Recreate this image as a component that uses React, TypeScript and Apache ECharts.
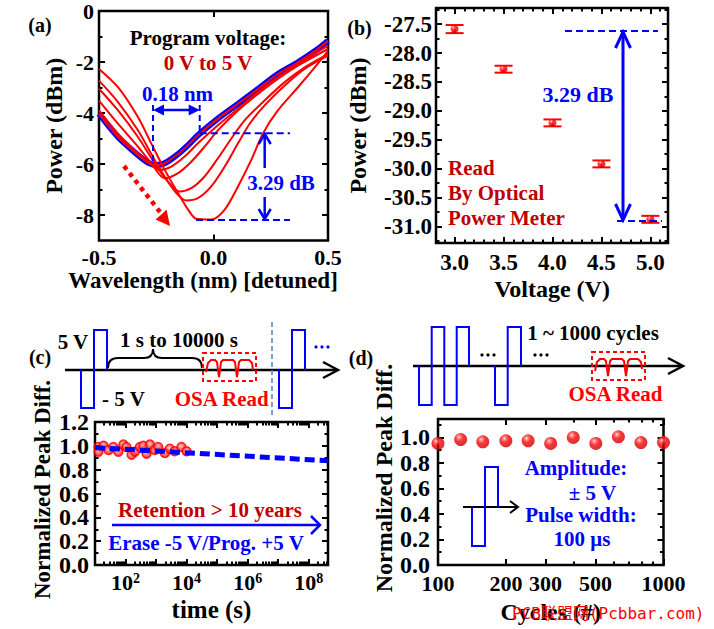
import React, { useEffect, useRef } from 'react';
import * as echarts from 'echarts';

const FONT = "'Liberation Serif', 'Times New Roman', serif";
const DARK_RED = '#c00000';
const RED = '#ff0000';
const BLUE = '#0000ff';

// ---------- Panel (a): spectra, wavelength (nm, detuned) vs power (dBm)
const wl0 = [-0.5, -0.417, -0.33, -0.286, -0.25, -0.213, -0.155, -0.111, -0.068, 0.019, 0.107, 0.194, 0.281, 0.369, 0.456, 0.5];
const pw0 = [-4.03, -4.94, -5.65, -5.95, -6.04, -5.97, -5.61, -5.26, -4.87, -4.22, -3.64, -3.06, -2.47, -2.01, -1.49, -1.17];
const wl1 = [-0.5, -0.417, -0.33, -0.272, -0.235, -0.184, -0.126, -0.068, 0.019, 0.107, 0.194, 0.281, 0.369, 0.5];
const pw1 = [-3.9, -4.81, -5.58, -6.04, -6.23, -6.1, -5.71, -5.19, -4.48, -3.83, -3.18, -2.6, -2.08, -1.36];
const wl2 = [-0.5, -0.417, -0.33, -0.272, -0.213, -0.155, -0.097, -0.039, 0.019, 0.107, 0.194, 0.281, 0.369, 0.5];
const pw2 = [-3.51, -4.42, -5.32, -5.97, -6.56, -6.36, -5.91, -5.32, -4.68, -3.9, -3.25, -2.66, -2.14, -1.49];
const wl3 = [-0.5, -0.417, -0.33, -0.257, -0.199, -0.148, -0.097, -0.039, 0.019, 0.078, 0.136, 0.223, 0.311, 0.398, 0.5];
const pw3 = [-3.05, -3.9, -4.94, -5.97, -6.69, -7.08, -6.95, -6.49, -5.78, -5.0, -4.29, -3.51, -2.79, -2.21, -1.69];
const wl4 = [-0.5, -0.417, -0.33, -0.257, -0.199, -0.155, -0.119, -0.068, -0.01, 0.049, 0.107, 0.158, 0.223, 0.311, 0.398, 0.5];
const pw4 = [-2.73, -3.57, -4.68, -5.84, -6.69, -7.21, -7.43, -7.34, -6.88, -6.1, -5.19, -4.42, -3.7, -2.92, -2.27, -1.75];
const wl5 = [-0.5, -0.417, -0.33, -0.272, -0.213, -0.155, -0.111, -0.075, -0.01, 0.049, 0.107, 0.165, 0.216, 0.281, 0.369, 0.442, 0.5];
const pw5 = [-2.27, -2.99, -4.16, -5.19, -6.23, -7.14, -7.79, -8.15, -8.18, -7.79, -6.88, -5.84, -4.8, -3.9, -2.99, -2.21, -1.56];
const curvesX = [wl0, wl1, wl2, wl3, wl4, wl5];
const curvesY = [pw0, pw1, pw2, pw3, pw4, pw5];
const aYTicks = [0, -2, -4, -6, -8];
const aYMinor = [-1, -3, -5, -7];
const aXTicks = [-0.5, 0, 0.5];

// ---------- Panel (b): read power vs program voltage
const voltages = [3.0, 3.5, 4.0, 4.5, 5.0];
const readPower = [-27.585, -28.28, -29.21, -29.92, -30.88];
const readErr = [0.07, 0.06, 0.06, 0.06, 0.06];
const bXTicks = [3.0, 3.5, 4.0, 4.5, 5.0];
const bXMinor = [2.9, 3.1, 3.2, 3.3, 3.4, 3.6, 3.7, 3.8, 3.9, 4.1, 4.2, 4.3, 4.4, 4.6, 4.7, 4.8, 4.9, 5.1];
const bYTicks = [-27.5, -28.0, -28.5, -29.0, -29.5, -30.0, -30.5, -31.0];
const bYMinor = [-27.25, -27.75, -28.25, -28.75, -29.25, -29.75, -30.25, -30.75, -31.25];

// ---------- Panel (c): retention
const retTimes = [13, 13, 19, 28, 40, 58, 85, 107, 158, 204, 295, 380, 490, 630, 912, 1175, 1950, 2820, 4070, 6760, 10000];
const retValues = [0.99, 0.95, 1.0, 0.965, 0.99, 0.95, 1.01, 0.99, 0.925, 0.95, 0.99, 1.0, 0.935, 1.01, 0.965, 0.99, 0.94, 0.975, 0.955, 0.99, 0.955];
const fitTimes = [10, 4.3e8];
const fitValues = [0.985, 0.875];
const cXDecades = [1, 2, 3, 4, 5, 6, 7, 8];
const cXLabelDecades = [2, 4, 6, 8];
const cYTicks = [0, 0.2, 0.4, 0.6, 0.8, 1.0, 1.2];
const cYMinor = [0.1, 0.3, 0.5, 0.7, 0.9, 1.1];

// ---------- Panel (d): endurance
const cycles = [100, 126, 158, 200, 251, 316, 398, 501, 631, 794, 1000];
const peakDiff = [0.953, 0.984, 0.966, 0.974, 0.974, 0.953, 1.0, 0.953, 1.005, 0.96, 0.96];
const dXTicks = [100, 200, 300, 500, 1000];
const dXMinor = [400, 600, 700, 800, 900];
const dYTicks = [0, 0.2, 0.4, 0.6, 0.8, 1.0];
const dYMinor = [0.1, 0.3, 0.5, 0.7, 0.9, 1.1];

const lg = (v: number) => Math.log10(v);

type Spec = {
  min: number; max: number; major: number[]; minor: number[]; labels: number[];
  fmt: (v: number) => string; fontSize: number; margin: number;
  name: string; nameGap: number; nameSize: number; namePad?: number[]; rich?: any;
};

function buildAxes(dim: 'x' | 'y', gridIndex: number, s: Spec) {
  const p1 = dim === 'x' ? 'bottom' : 'left';
  const p2 = dim === 'x' ? 'top' : 'right';
  const base = {
    type: 'value', gridIndex, min: s.min, max: s.max,
    axisLine: { show: false, onZero: false },
    splitLine: { show: false },
  };
  const tick = (vals: number[], len: number) => ({
    show: true, inside: true, length: len, customValues: vals,
    lineStyle: { color: '#000', width: 2 },
  });
  return [
    {
      ...base, position: p1, axisTick: tick(s.major, 6),
      axisLabel: {
        show: true, customValues: s.labels, formatter: s.fmt, color: '#000',
        fontFamily: FONT, fontWeight: 'bold', fontSize: s.fontSize, margin: s.margin,
        rich: s.rich,
      },
      name: s.name, nameLocation: 'middle', nameGap: s.nameGap,
      nameTextStyle: {
        color: '#000', fontFamily: FONT, fontWeight: 'bold', fontSize: s.nameSize,
        padding: s.namePad || [0, 0, 0, 0],
      },
    },
    { ...base, position: p1, axisTick: tick(s.minor, 3.5), axisLabel: { show: false } },
    { ...base, position: p2, axisTick: tick(s.major, 6), axisLabel: { show: false } },
    { ...base, position: p2, axisTick: tick(s.minor, 3.5), axisLabel: { show: false } },
  ];
}

const txt = (x: number, y: number, text: string, fill: string, size = 21, align = 'center') => ({
  type: 'text', x, y, z: 100,
  style: {
    text, fill, fontSize: size, fontWeight: 'bold', fontFamily: FONT,
    textAlign: align, align, textVerticalAlign: 'middle', verticalAlign: 'middle',
  },
});
const ln = (x1: number, y1: number, x2: number, y2: number, stroke: string, w = 2, dash?: number[]) => ({
  type: 'line', z: 100, shape: { x1, y1, x2, y2 },
  style: { stroke, lineWidth: w, lineDash: dash || null },
});
const pl = (points: number[][], stroke: string, w = 2, dash?: number[]) => ({
  type: 'polyline', z: 100, shape: { points },
  style: { stroke, lineWidth: w, fill: null, lineDash: dash || null },
});
const bz = (x1: number, y1: number, cpx1: number, cpy1: number, x2: number, y2: number) => ({
  type: 'bezierCurve', z: 100, shape: { x1, y1, cpx1, cpy1, x2, y2 },
  style: { stroke: '#000', lineWidth: 2, fill: null },
});
const dots = (cx: number, cy: number, fill: string) =>
  [-6, 0, 6].map((dx) => ({ type: 'circle', z: 100, shape: { cx: cx + dx, cy, r: 1.6 }, style: { fill } }));
const osaBox = (x0: number, y0: number) => [
  {
    type: 'rect', z: 100, shape: { x: x0, y: y0, width: 53, height: 28 },
    style: { stroke: RED, lineWidth: 2, fill: null, lineDash: [4, 3] },
  },
  pl([[x0 + 3, y0 + 19], [x0 + 5, y0 + 10], [x0 + 8, y0 + 7], [x0 + 12, y0 + 7], [x0 + 14, y0 + 9], [x0 + 15, y0 + 17],
      [x0 + 16, y0 + 24], [x0 + 17, y0 + 17], [x0 + 18, y0 + 9], [x0 + 20, y0 + 7], [x0 + 30, y0 + 7], [x0 + 32, y0 + 9],
      [x0 + 33, y0 + 17], [x0 + 34, y0 + 24], [x0 + 35, y0 + 17], [x0 + 36, y0 + 9], [x0 + 38, y0 + 7], [x0 + 46, y0 + 7],
      [x0 + 49, y0 + 10], [x0 + 50, y0 + 17]], RED, 2),
];

function buildOption() {
  const xAxis = [
    ...buildAxes('x', 0, {
      min: -0.5, max: 0.5, major: aXTicks, minor: [], labels: aXTicks,
      fmt: (v) => v.toFixed(1), fontSize: 22, margin: 6,
      name: 'Wavelength (nm) [detuned]', nameGap: 26, nameSize: 23, namePad: [0, 21, 0, 0],
    }),
    ...buildAxes('x', 1, {
      min: 2.81, max: 5.18, major: bXTicks, minor: bXMinor, labels: bXTicks,
      fmt: (v) => v.toFixed(1), fontSize: 23, margin: 8,
      name: 'Voltage (V)', nameGap: 34, nameSize: 24,
    }),
    ...buildAxes('x', 2, {
      min: 1, max: 8.63, major: cXDecades,
      minor: cXDecades.flatMap((n) => [2, 3, 4, 5, 6, 7, 8, 9].map((k) => n + lg(k))).filter((v) => v < 8.63),
      labels: cXLabelDecades,
      fmt: (v) => `{b|10}{s|${Math.round(v)}}`, fontSize: 22, margin: 6,
      rich: {
        b: { fontSize: 22, fontWeight: 'bold', fontFamily: FONT, color: '#000', verticalAlign: 'bottom' },
        s: { fontSize: 14, fontWeight: 'bold', fontFamily: FONT, color: '#000', verticalAlign: 'top' },
      },
      name: 'time (s)', nameGap: 32, nameSize: 25,
    }),
    ...buildAxes('x', 3, {
      min: 2, max: 3, major: dXTicks.map(lg), minor: dXMinor.map(lg), labels: dXTicks.map(lg),
      fmt: (v) => String(Math.round(Math.pow(10, v))), fontSize: 22, margin: 7,
      name: 'Cycles (#)', nameGap: 35, nameSize: 24,
    }),
  ];
  const yAxis = [
    ...buildAxes('y', 0, {
      min: -9, max: 0, major: aYTicks, minor: aYMinor, labels: aYTicks,
      fmt: (v) => String(v), fontSize: 22, margin: 5,
      name: 'Power (dBm)', nameGap: 33, nameSize: 24,
    }),
    ...buildAxes('y', 1, {
      min: -31.29, max: -27.22, major: bYTicks, minor: bYMinor, labels: bYTicks,
      fmt: (v) => v.toFixed(1), fontSize: 23, margin: 4,
      name: 'Power (dBm)', nameGap: 66, nameSize: 24,
    }),
    ...buildAxes('y', 2, {
      min: 0, max: 1.2, major: cYTicks, minor: cYMinor, labels: cYTicks,
      fmt: (v) => v.toFixed(1), fontSize: 24, margin: 6,
      name: 'Normalized Peak Diff.', nameGap: 41, nameSize: 23, namePad: [0, 0, 0, 8],
    }),
    ...buildAxes('y', 3, {
      min: 0, max: 1.145, major: dYTicks, minor: dYMinor, labels: dYTicks,
      fmt: (v) => v.toFixed(1), fontSize: 24, margin: 8,
      name: 'Normalized Peak Diff.', nameGap: 42, nameSize: 24, namePad: [0, 0, 0, 28],
    }),
  ];

  const sphere = {
    type: 'radial', x: 0.38, y: 0.32, r: 0.72,
    colorStops: [
      { offset: 0, color: '#ffffff' }, { offset: 0.15, color: '#ff7070' },
      { offset: 0.45, color: '#ff0000' }, { offset: 1, color: '#c00000' },
    ],
  };
  const ring = {
    type: 'radial', x: 0.45, y: 0.4, r: 0.6,
    colorStops: [
      { offset: 0, color: '#ffc8c8' }, { offset: 0.5, color: '#ff5050' }, { offset: 1, color: '#ff0000' },
    ],
  };

  const series: any[] = [];
  // (a) blue reference under the 0 V trace, then red traces
  series.push({
    type: 'line', xAxisIndex: 0, yAxisIndex: 0, data: wl0.map((x, i) => [x, pw0[i]]),
    showSymbol: false, smooth: 0.3, lineStyle: { color: BLUE, width: 6 }, z: 2, clip: true,
  });
  curvesX.forEach((xs, c) => {
    series.push({
      type: 'line', xAxisIndex: 0, yAxisIndex: 0, data: xs.map((x, i) => [x, curvesY[c][i]]),
      showSymbol: false, smooth: 0.3, lineStyle: { color: RED, width: 2 }, z: 3, clip: true,
    });
  });
  // (b)
  series.push({
    type: 'custom', xAxisIndex: 4, yAxisIndex: 4,
    data: voltages.map((v, i) => [v, readPower[i], readErr[i]]),
    renderItem: (params: any, api: any) => {
      const x = api.value(0), y = api.value(1), e = api.value(2);
      const top = api.coord([x, y + e]);
      const bot = api.coord([x, y - e]);
      const hw = 9;
      const st = { stroke: RED, lineWidth: 2 };
      return {
        type: 'group',
        children: [
          { type: 'line', shape: { x1: top[0], y1: top[1], x2: bot[0], y2: bot[1] }, style: st },
          { type: 'line', shape: { x1: top[0] - hw, y1: top[1], x2: top[0] + hw, y2: top[1] }, style: st },
          { type: 'line', shape: { x1: bot[0] - hw, y1: bot[1], x2: bot[0] + hw, y2: bot[1] }, style: st },
        ],
      };
    },
    z: 3,
  });
  series.push({
    type: 'scatter', xAxisIndex: 4, yAxisIndex: 4, data: voltages.map((v, i) => [v, readPower[i]]),
    symbol: 'circle', symbolSize: 8, itemStyle: { color: sphere }, z: 4,
  });
  // (c)
  series.push({
    type: 'line', xAxisIndex: 8, yAxisIndex: 8, data: fitTimes.map((t, i) => [lg(t), fitValues[i]]),
    showSymbol: false, lineStyle: { color: BLUE, width: 5, type: [10, 5] }, z: 4,
  });
  series.push({
    type: 'scatter', xAxisIndex: 8, yAxisIndex: 8, data: retTimes.map((t, i) => [lg(t), retValues[i]]),
    symbol: 'circle', symbolSize: 9, itemStyle: { color: ring, borderColor: RED, borderWidth: 1.5 }, z: 3, clip: true,
  });
  // (d)
  series.push({
    type: 'scatter', xAxisIndex: 12, yAxisIndex: 12, data: cycles.map((c, i) => [lg(c), peakDiff[i]]),
    symbol: 'circle', symbolSize: 13, itemStyle: { color: sphere }, z: 3, clip: true,
  });

  const graphic: any[] = [
    // ----- (a)
    txt(40, 25, '(a)', '#000', 20),
    txt(208, 38, 'Program voltage:', '#000', 21),
    txt(208, 62.5, '0 V to 5 V', DARK_RED, 21),
    txt(177.5, 94, '0.18 nm', BLUE, 21),
    ln(153, 105, 153, 165, BLUE, 2, [6, 4]),
    ln(199.7, 105, 199.7, 132, BLUE, 2, [6, 4]),
    ln(158, 110, 195, 110, BLUE, 2.5),
    { type: 'polygon', z: 100, shape: { points: [[153, 110], [164, 104.5], [164, 115.5]] }, style: { fill: BLUE } },
    { type: 'polygon', z: 100, shape: { points: [[199.7, 110], [188.7, 104.5], [188.7, 115.5]] }, style: { fill: BLUE } },
    ln(199.7, 133.3, 290, 133.3, BLUE, 2, [7, 4]),
    ln(196, 220, 290, 220, BLUE, 2, [7, 4]),
    ln(264.7, 134, 264.7, 168, BLUE, 2.5),
    ln(264.7, 197, 264.7, 219, BLUE, 2.5),
    pl([[258.7, 144], [264.7, 134], [270.7, 144]], BLUE, 2.5),
    pl([[258.7, 209], [264.7, 219], [270.7, 209]], BLUE, 2.5),
    txt(281, 183, '3.29 dB', BLUE, 21),
    ln(124, 166, 160, 212, RED, 4.5, [4.5, 4.5]),
    { type: 'polygon', z: 100, shape: { points: [[170, 226], [155.5, 219.5], [162, 214], [166.5, 209.5]] }, style: { fill: RED } },
    // ----- (b)
    txt(359.5, 28, '(b)', '#000', 20),
    ln(565, 31, 658, 31, BLUE, 2, [7, 4]),
    ln(617, 221, 662, 221, BLUE, 2, [7, 4]),
    ln(623, 32, 623, 220, BLUE, 3),
    pl([[615.5, 48], [623, 32], [630.5, 48]], BLUE, 3),
    pl([[615.5, 204], [623, 220], [630.5, 204]], BLUE, 3),
    txt(578, 94, '3.29 dB', BLUE, 22),
    txt(448, 168, 'Read', DARK_RED, 21, 'left'),
    txt(448, 193, 'By Optical', DARK_RED, 21, 'left'),
    txt(448, 218, 'Power Meter', DARK_RED, 21, 'left'),
    // ----- (c) pulse diagram
    txt(40, 357, '(c)', '#000', 20),
    ln(65, 370, 337, 370, '#000', 2.5),
    pl([[323, 362], [338, 370], [323, 378]], '#000', 2.5),
    pl([[81, 370], [81, 408], [94, 408], [94, 330], [107, 330], [107, 370]], BLUE, 2),
    pl([[279, 370], [279, 408], [292, 408], [292, 330], [305, 330], [305, 370]], BLUE, 2),
    txt(73, 342, '5 V', '#000', 21),
    txt(123.5, 399, '- 5 V', '#000', 21),
    txt(179, 340, '1 s to 10000 s', '#000', 21),
    bz(108, 368, 108, 358, 118, 358),
    ln(118, 358, 144, 358, '#000', 2),
    bz(144, 358, 153, 358, 153, 349),
    bz(153, 349, 153, 358, 162, 358),
    ln(162, 358, 192, 358, '#000', 2),
    bz(192, 358, 202, 358, 202, 368),
    ...osaBox(203, 353),
    txt(221.7, 399, 'OSA Read', RED, 21),
    ln(272, 322, 272, 418, '#4f81bd', 1.5, [5, 3]),
    ...dots(322, 347, BLUE),
    // (c) chart annotations
    txt(210, 509.5, 'Retention > 10 years', DARK_RED, 21),
    ln(112, 525, 319, 525, BLUE, 2.5),
    pl([[311, 516], [320, 525], [311, 534]], BLUE, 2.5),
    txt(206, 543, 'Erase -5 V/Prog. +5 V', BLUE, 21),
    // ----- (d) pulse diagram
    txt(361, 358, '(d)', '#000', 20),
    ln(413, 366, 682, 366, '#000', 2.5),
    pl([[668, 358], [683, 366], [668, 374]], '#000', 2.5),
    pl([[419, 366], [419, 405], [431.7, 405], [431.7, 327], [444.3, 327], [444.3, 405], [456.7, 405], [456.7, 327], [469, 327], [469, 366]], BLUE, 2),
    pl([[495, 366], [495, 405], [507.7, 405], [507.7, 327], [521, 327], [521, 366]], BLUE, 2),
    ...dots(488, 355, '#000'),
    ...dots(541, 355, '#000'),
    txt(593, 333, '1 ~ 1000 cycles', '#000', 21),
    ...osaBox(592, 352),
    txt(615.5, 394, 'OSA Read', RED, 21),
    // (d) inset
    ln(463, 507, 517, 507, '#000', 2),
    pl([[510, 501], [518, 507], [510, 513]], '#000', 2),
    pl([[472, 507], [472, 546], [485, 546], [485, 467], [498, 467], [498, 507]], BLUE, 2),
    txt(576, 468, 'Amplitude:', BLUE, 21),
    txt(592.5, 493, '± 5 V', BLUE, 21),
    txt(581, 515, 'Pulse width:', BLUE, 21),
    txt(582, 539, '100 μs', BLUE, 21),
    // watermark
    {
      type: 'text', x: 512, y: 613, z: 120,
      style: {
        text: 'PCB联盟网(Pcbbar.com)', fill: RED, fontSize: 16, fontWeight: 'normal',
        fontFamily: "'DejaVu Sans Mono', 'Noto Sans CJK SC', monospace",
        textAlign: 'left', align: 'left', textVerticalAlign: 'middle', verticalAlign: 'middle',
      },
    },
  ];

  const gridBase = { show: true, borderColor: '#000', borderWidth: 2.5, backgroundColor: 'transparent', containLabel: false };
  return {
    animation: false,
    backgroundColor: '#ffffff',
    grid: [
      { ...gridBase, left: 99, top: 10, width: 229, height: 230.5 },
      { ...gridBase, left: 436, top: 8, width: 232, height: 235 },
      { ...gridBase, left: 95, top: 422, width: 233, height: 143 },
      { ...gridBase, left: 438, top: 419, width: 225.5, height: 146 },
    ],
    xAxis,
    yAxis,
    series,
    graphic,
  };
}

export default function App() {
  const ref = useRef<HTMLDivElement>(null);
  useEffect(() => {
    if (!ref.current) return;
    const chart = echarts.init(ref.current, undefined, { renderer: 'svg' });
    chart.setOption(buildOption() as any);
    return () => chart.dispose();
  }, []);
  return (
    <div
      ref={ref}
      style={{ position: 'absolute', left: 0, top: 0, width: 714, height: 629, background: '#fff' }}
    />
  );
}
